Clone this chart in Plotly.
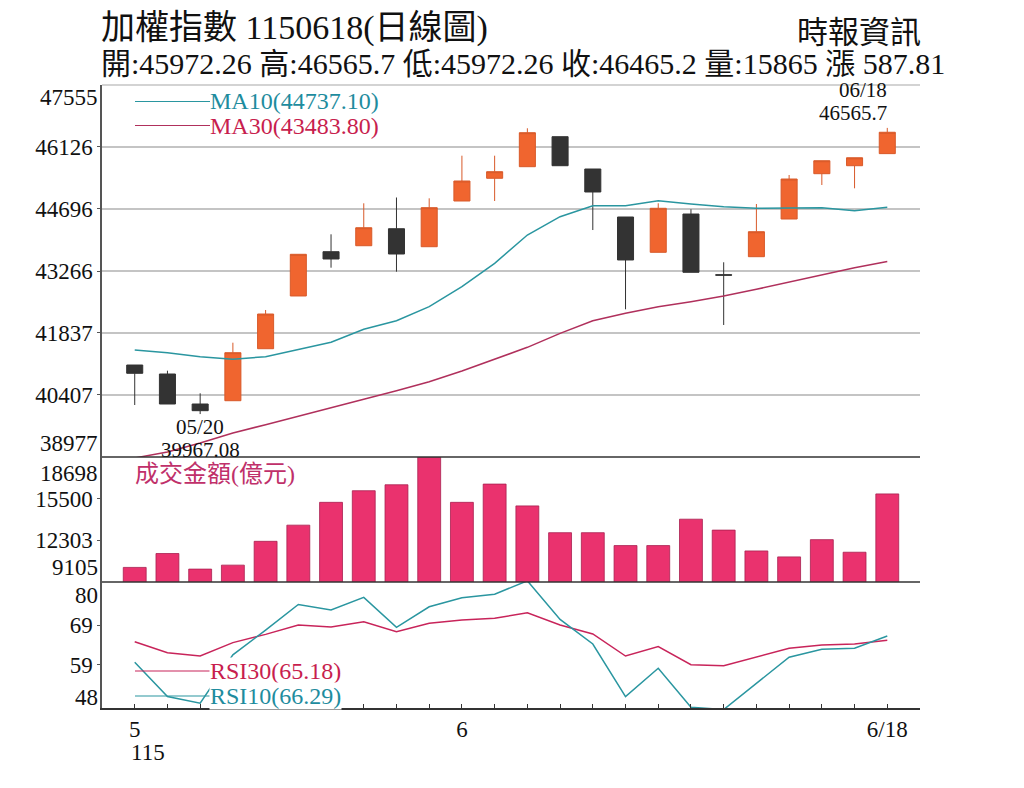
import plotly.graph_objects as go

# ---------------- data ----------------
dates = ["05/18", "05/19", "05/20", "05/21", "05/22", "05/25", "05/26", "05/27", "05/28", "05/29",
         "06/01", "06/02", "06/03", "06/04", "06/05", "06/08", "06/09", "06/10", "06/11", "06/12",
         "06/15", "06/16", "06/17", "06/18"]
idx = list(range(len(dates)))

opens = [41098, 40891, 40199, 40275, 41474, 42690, 43711, 43849, 44241, 43826,
         44880, 45404, 45671, 46363, 45618, 44511, 43697, 44580, 43180, 43596,
         44465, 45510, 45694, 45972.26]
highs = [41098, 40967, 40446, 41613, 42367, 43651, 44112, 44827, 44961, 44942,
         45925, 45925, 46557, 46363, 45618, 44511, 44827, 44689, 43467, 44811,
         45480, 45809, 45877.39, 46565.7]
lows = [40176, 40199, 39967.08, 40275, 41474, 42690, 43342, 43849, 43250, 43826,
        44880, 44880, 45671, 45694, 44211, 42383, 43697, 43236, 42021, 43596,
        44465, 45249, 45173, 45972.26]
closes = [40907, 40199, 40045, 41382, 42274, 43651, 43543, 44264, 43658, 44726,
          45341, 45556, 46455, 45694, 45088, 43520, 44712, 43236, 43170, 44172,
          45387, 45809, 45877.39, 46465.2]

ma10 = [41444, 41382, 41290, 41230, 41290, 41460, 41622, 41922, 42120, 42443,
        42904, 43443, 44096, 44518, 44772, 44772, 44887, 44811, 44749, 44712,
        44712, 44726, 44657, 44737.10]
ma30 = [38954, 39092, 39300, 39530, 39722, 39923, 40114, 40308, 40506, 40714,
        40960, 41230, 41506, 41829, 42120, 42290, 42443, 42558, 42690, 42844,
        43005, 43174, 43342, 43483.80]

volumes = [10225, 11290, 10095, 10400, 12227, 13468, 15219, 16110, 16566, 18698,
           15219, 16620, 14945, 12889, 12889, 11900, 11900, 13925, 13087, 11488,
           11032, 12356, 11390, 15865]

rsi30 = [64.84, 62.05, 61.2, 64.6, 66.7, 69.1, 68.57, 69.92, 67.4, 69.5,
         70.35, 70.77, 72.2, 69.1, 66.8, 61.2, 63.6, 59.0, 58.75, 60.9,
         63.15, 64.0, 64.25, 65.18]
rsi10 = [59.6, 50.9, 49.2, 61.5, 67.8, 74.3, 72.9, 76.1, 68.5, 73.7,
         76.0, 76.9, 80.3, 70.5, 64.25, 50.9, 58.1, 48.2, 47.6, 54.3,
         60.9, 62.9, 63.2, 66.29]

price_ticks = [38977, 40407, 41837, 43266, 44696, 46126, 47555]
vol_ticks = [9105, 12303, 15500, 18698]
rsi_ticks = [48, 59, 69, 80]
x_ticktext = {0: "5", 10: "6", 23: "6/18"}

title_text = "加權指數 1150618(日線圖)"
source_text = "時報資訊"
volume_label = "成交金額(億元)"

# ---------------- styling ----------------
FONT = "Liberation Serif, Noto Sans CJK TC, serif"
ORANGE = "#F0652F"
ORANGE_LINE = "#D85A2A"
DARK = "#333333"
PINK = "#EA326E"
TEAL = "#2A96A0"
CRIMSON = "#C8245A"
MA30_COL = "#B0305C"

W, H = 1024, 788
ML, MR, MT, MB = 102, 104, 85, 80
PW, PH = W - ML - MR, H - MT - MB


def py(p):  # pixel y -> paper y
    return (H - MB - p) / PH


def px(p):  # pixel x -> paper x
    return (p - ML) / PW


d_rsi = [0, py(582)]
d_vol = [py(582), py(457)]
d_main = [py(457), 1]

fig = go.Figure()

fig.add_trace(go.Candlestick(
    x=idx, open=opens, high=highs, low=lows, close=closes,
    increasing=dict(line=dict(color=ORANGE_LINE, width=1), fillcolor=ORANGE),
    decreasing=dict(line=dict(color=DARK, width=1), fillcolor=DARK),
    xaxis="x", yaxis="y", hoverinfo="skip"))

fig.add_trace(go.Scatter(x=idx, y=ma10, mode="lines", line=dict(color=TEAL, width=1.5),
                         xaxis="x", yaxis="y", hoverinfo="skip"))
fig.add_trace(go.Scatter(x=idx, y=ma30, mode="lines", line=dict(color=MA30_COL, width=1.5),
                         xaxis="x", yaxis="y", hoverinfo="skip"))

fig.add_trace(go.Bar(x=idx, y=volumes, marker=dict(color=PINK, line=dict(color="#A8204F", width=0.8)),
                     xaxis="x", yaxis="y2", hoverinfo="skip"))

fig.add_trace(go.Scatter(x=idx, y=rsi30, mode="lines", line=dict(color=CRIMSON, width=1.5),
                         xaxis="x", yaxis="y3", hoverinfo="skip"))
fig.add_trace(go.Scatter(x=idx, y=rsi10, mode="lines", line=dict(color=TEAL, width=1.5),
                         xaxis="x", yaxis="y3", hoverinfo="skip"))

tick_font = dict(family=FONT, size=23, color="#111")

yaxis_common = dict(showline=True, linecolor="#555", linewidth=1.5, ticks="outside",
                    ticklen=3, tickcolor="#555", tickfont=tick_font, zeroline=False,
                    anchor="x", fixedrange=True)


def inner(ticks):
    return dict(tickvals=ticks[1:-1], ticktext=[str(t) for t in ticks[1:-1]])


fig.update_layout(
    width=W, height=H,
    margin=dict(l=ML, r=MR, t=MT, b=MB),
    paper_bgcolor="white", plot_bgcolor="white",
    showlegend=False, hovermode=False,
    bargap=0.3, boxgap=0.3,
    font=dict(family=FONT, color="#111"),
    xaxis=dict(range=[-1, 24], anchor="y3", showgrid=False, zeroline=False,
               showline=True, linecolor="#333", linewidth=1.5,
               tickvals=idx, ticktext=[x_ticktext.get(i, "") for i in idx],
               ticks="inside", ticklen=4, tickcolor="#333", tickfont=tick_font,
               rangeslider=dict(visible=False), fixedrange=True),
    yaxis=dict(domain=d_main, range=[price_ticks[0], price_ticks[-1]],
               showgrid=True, gridcolor="#C4C4C4", gridwidth=1.5,
               **inner(price_ticks), **yaxis_common),
    yaxis2=dict(domain=d_vol, range=[vol_ticks[0], vol_ticks[-1]],
                showgrid=False, **inner(vol_ticks), **yaxis_common),
    yaxis3=dict(domain=d_rsi, range=[rsi_ticks[0], rsi_ticks[-1]],
                showgrid=False, **inner(rsi_ticks), **yaxis_common),
)

shapes = [
    dict(type="line", xref="paper", yref="paper", x0=0, x1=1, y0=1, y1=1,
         line=dict(color="#C4C4C4", width=1.5)),
    dict(type="line", xref="paper", yref="paper", x0=0, x1=1, y0=d_main[0], y1=d_main[0],
         line=dict(color="#333", width=1.5)),
    dict(type="line", xref="paper", yref="paper", x0=0, x1=1, y0=d_rsi[1], y1=d_rsi[1],
         line=dict(color="#333", width=1.5)),
    # legend sample lines
    dict(type="line", xref="paper", yref="paper", x0=px(135), x1=px(210), y0=py(101.5), y1=py(101.5),
         line=dict(color=TEAL, width=1.2)),
    dict(type="line", xref="paper", yref="paper", x0=px(135), x1=px(210), y0=py(125.5), y1=py(125.5),
         line=dict(color=MA30_COL, width=1.2)),
    dict(type="line", xref="paper", yref="paper", x0=px(135), x1=px(210), y0=py(671), y1=py(671),
         line=dict(color=CRIMSON, width=1.2)),
    dict(type="line", xref="paper", yref="paper", x0=px(135), x1=px(210), y0=py(696), y1=py(696),
         line=dict(color=TEAL, width=1.2)),
]
fig.update_layout(shapes=shapes)

header = (f"開:{opens[-1]} 高:{highs[-1]} 低:{lows[-1]} 收:{closes[-1]} "
          f"量:{volumes[-1]} 漲 {closes[-1] - closes[-2]:.2f}")

ann = []


def add(text, x, y, size=23, color="#111", xanchor="left", yanchor="middle",
        xref="paper", yref="paper", xshift=0, yshift=0, bg=None):
    a = dict(text=text, x=x, y=y, xref=xref, yref=yref, xanchor=xanchor, yanchor=yanchor,
             showarrow=False, xshift=xshift, yshift=yshift, borderpad=0,
             font=dict(family=FONT, size=size, color=color))
    if bg:
        a["bgcolor"] = bg
    ann.append(a)


add(title_text, px(100), py(28), size=34)
add(header, px(100), py(64), size=30)
add(source_text, px(922), py(32), size=31, xanchor="right")

# edge tick labels
add(str(price_ticks[-1]), 0, price_ticks[-1], yref="y", xanchor="right", xshift=-3, yshift=-12)
add(str(price_ticks[0]), 0, price_ticks[0], yref="y", xanchor="right", xshift=-3, yshift=14)
add(str(vol_ticks[-1]), 0, vol_ticks[-1], yref="y2", xanchor="right", xshift=-3, yshift=-16)
add(str(vol_ticks[0]), 0, vol_ticks[0], yref="y2", xanchor="right", xshift=-3, yshift=15)
add(str(rsi_ticks[-1]), 0, rsi_ticks[-1], yref="y3", xanchor="right", xshift=-3, yshift=-13)
add(str(rsi_ticks[0]), 0, rsi_ticks[0], yref="y3", xanchor="right", xshift=-3, yshift=11)

# legends
add(f"MA10({ma10[-1]:.2f})", px(209), py(101), size=24, color="#1E8C9E")
add(f"MA30({ma30[-1]:.2f})", px(209), py(126), size=24, color="#C81E4E")
add(volume_label, px(134), py(474), size=24, color="#C0306A")
add(f"RSI30({rsi30[-1]:.2f})", px(209), py(671), size=24, color="#C81E4E", bg="white")
add(f"RSI10({rsi10[-1]:.2f})", px(209), py(696), size=24, color="#1E8C9E", bg="white")

# low / high markers (stacked tightly, as in the reference)
lo_i = lows.index(min(lows))
hi_i = highs.index(max(highs))
add(dates[lo_i], lo_i, lows[lo_i], xref="x", yref="y", xanchor="center", yshift=-13, size=21)
add(f"{lows[lo_i]:.2f}", lo_i, lows[lo_i], xref="x", yref="y", xanchor="center", yshift=-36, size=21)
add(dates[hi_i], hi_i, highs[hi_i], xref="x", yref="y", xanchor="right", xshift=1, yshift=38, size=21)
add(f"{highs[hi_i]}", hi_i, highs[hi_i], xref="x", yref="y", xanchor="right", xshift=1, yshift=15, size=21)

# year under the first month label
add("115", 0, py(752), xref="x", xanchor="left", xshift=-5, size=23)

fig.update_layout(annotations=ann)

fig.write_html("out.html")
